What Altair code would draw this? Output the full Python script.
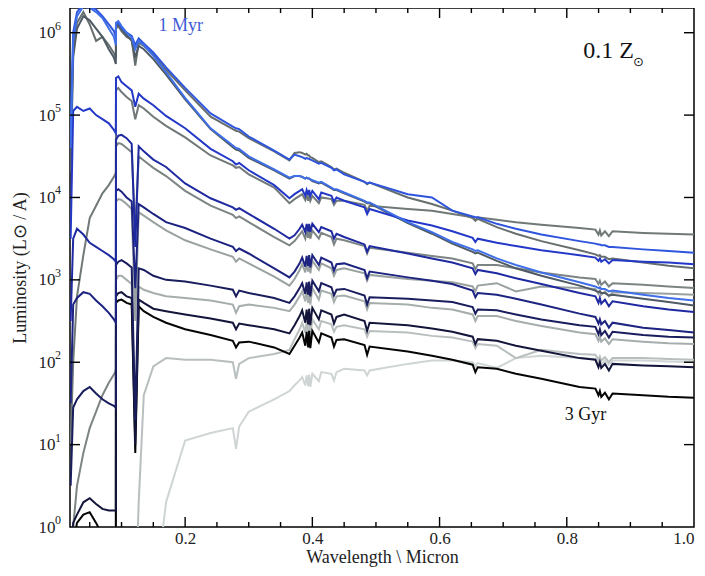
import altair as alt
import pandas as pd

# ---------------- data (log10 luminosity) ----------------
wavelength = [0.020, 0.024, 0.030, 0.040, 0.050, 0.060, 0.070, 0.080, 0.088, 0.0911,
              0.0913, 0.095, 0.100, 0.108, 0.116, 0.1216, 0.127, 0.135, 0.150, 0.170,
              0.200, 0.240, 0.275, 0.280, 0.285, 0.300, 0.340, 0.364, 0.372, 0.380,
              0.384, 0.3889, 0.391, 0.3934, 0.395, 0.3968, 0.400, 0.4102, 0.414, 0.430, 0.434, 0.438,
              0.450, 0.482, 0.4861, 0.490, 0.550, 0.588, 0.620, 0.652, 0.6563, 0.660,
              0.690, 0.720, 0.760, 0.820, 0.845, 0.8498, 0.852, 0.8542, 0.860, 0.8662,
              0.872, 0.920, 0.960, 1.000]

beta_b = [4.60, 5.90, 6.20, 6.32, 6.30, 6.25, 6.18, 6.05, 5.95, 5.85,
          6.12, 6.14, 6.08, 6.00, 5.94, 5.80, 5.90, 5.85, 5.72, 5.52,
          5.21, 4.84, 4.63, 4.60, 4.59, 4.50, 4.34, 4.24, 4.26, 4.26,
          4.25, 4.23, 4.24, 4.23, 4.23, 4.22, 4.21, 4.18, 4.19, 4.12, 4.10, 4.10,
          4.06, 3.96, 3.94, 3.94, 3.70, 3.58, 3.46, 3.37, 3.35, 3.36,
          3.26, 3.18, 3.09, 2.97, 2.92, 2.90, 2.91, 2.89, 2.89, 2.86,
          2.87, 2.82, 2.78, 2.75]
beta_g = [4.30, 5.70, 6.05, 6.20, 6.15, 6.05, 5.95, 5.80, 5.70, 5.62,
          6.08, 6.10, 6.04, 5.97, 5.90, 5.70, 5.84, 5.80, 5.68, 5.49,
          5.19, 4.83, 4.61, 4.58, 4.57, 4.48, 4.33, 4.23, 4.26, 4.26,
          4.25, 4.23, 4.24, 4.23, 4.23, 4.22, 4.20, 4.17, 4.18, 4.11, 4.09, 4.09,
          4.05, 3.95, 3.93, 3.93, 3.69, 3.56, 3.44, 3.34, 3.32, 3.33,
          3.23, 3.14, 3.05, 2.93, 2.87, 2.85, 2.86, 2.84, 2.84, 2.81,
          2.82, 2.77, 2.73, 2.69]
alpha_b = [4.80, 6.00, 6.25, 6.35, 6.32, 6.28, 6.20, 6.10, 6.02, 5.95,
           6.10, 6.12, 6.06, 6.00, 5.96, 5.85, 5.93, 5.87, 5.76, 5.58,
           5.33, 5.02, 4.86, 4.84, 4.83, 4.74, 4.57, 4.46, 4.52, 4.50,
           4.49, 4.47, 4.48, 4.47, 4.47, 4.46, 4.45, 4.41, 4.42, 4.36, 4.33, 4.34,
           4.28, 4.19, 4.17, 4.18, 4.04, 4.00, 3.84, 3.77, 3.76, 3.76,
           3.68, 3.62, 3.55, 3.47, 3.44, 3.43, 3.43, 3.42, 3.42, 3.40,
           3.40, 3.37, 3.35, 3.33]
alpha_g = [4.50, 5.80, 6.12, 6.25, 6.10, 5.90, 5.95, 5.85, 5.75, 5.70,
           6.05, 6.08, 6.02, 5.95, 5.92, 5.60, 5.88, 5.84, 5.74, 5.55,
           5.30, 4.98, 4.83, 4.81, 4.80, 4.72, 4.56, 4.45, 4.54, 4.55,
           4.54, 4.52, 4.53, 4.51, 4.51, 4.49, 4.48, 4.43, 4.44, 4.37, 4.34, 4.35,
           4.30, 4.19, 4.16, 4.18, 4.00, 3.92, 3.84, 3.75, 3.72, 3.74,
           3.64, 3.56, 3.47, 3.36, 3.31, 3.29, 3.30, 3.28, 3.28, 3.25,
           3.26, 3.21, 3.17, 3.14]
gamma_b = [3.50, 5.05, 5.10, 5.05, 5.08, 5.00, 4.95, 4.90, 4.82, 4.78,
           5.45, 5.47, 5.40, 5.35, 5.30, 5.10, 5.26, 5.20, 5.12, 4.99,
           4.84, 4.59, 4.44, 4.40, 4.42, 4.33, 4.15, 3.99, 4.04, 4.08,
           4.10, 4.02, 4.09, 4.03, 4.09, 4.02, 4.08, 3.98, 4.06, 4.02, 3.95, 4.00,
           3.96, 3.88, 3.80, 3.86, 3.72, 3.66, 3.59, 3.51, 3.46, 3.50,
           3.45, 3.41, 3.36, 3.30, 3.27, 3.23, 3.26, 3.22, 3.25, 3.20,
           3.24, 3.22, 3.21, 3.19]
gamma_g = [1.00, 2.00, 2.80, 3.30, 3.75, 3.90, 4.05, 4.15, 4.25, 4.30,
           5.30, 5.33, 5.28, 5.22, 5.17, 4.95, 5.12, 5.08, 4.98, 4.87,
           4.73, 4.51, 4.39, 4.36, 4.37, 4.28, 4.12, 3.93, 3.98, 4.02,
           4.04, 3.97, 4.03, 3.96, 4.03, 3.96, 4.02, 3.93, 4.00, 3.98, 3.91, 3.96,
           3.96, 3.91, 3.84, 3.90, 3.86, 3.84, 3.80, 3.76, 3.72, 3.76,
           3.73, 3.70, 3.67, 3.63, 3.61, 3.55, 3.60, 3.54, 3.59, 3.53,
           3.59, 3.57, 3.56, 3.55]
pa_b = [2.50, 3.50, 3.62, 3.55, 3.45, 3.40, 3.35, 3.30, 3.25, 3.22,
        4.70, 4.75, 4.76, 4.72, 4.65, 3.40, 4.62, 4.56, 4.46, 4.37,
        4.17, 3.99, 3.88, 3.85, 3.87, 3.80, 3.62, 3.50, 3.54, 3.62,
        3.67, 3.58, 3.68, 3.59, 3.68, 3.58, 3.68, 3.58, 3.64, 3.59, 3.50, 3.56,
        3.52, 3.43, 3.34, 3.41, 3.32, 3.26, 3.21, 3.14, 3.07, 3.12,
        3.08, 3.02, 2.95, 2.84, 2.80, 2.72, 2.78, 2.71, 2.76, 2.68,
        2.74, 2.68, 2.64, 2.61]
pa_g = [-0.50, 0.00, 0.50, 0.90, 1.20, 1.40, 1.60, 1.75, 1.85, 1.90,
        4.62, 4.66, 4.65, 4.60, 4.55, 3.60, 4.50, 4.45, 4.36, 4.26,
        4.08, 3.90, 3.79, 3.75, 3.77, 3.70, 3.52, 3.42, 3.47, 3.55,
        3.59, 3.50, 3.60, 3.51, 3.60, 3.50, 3.60, 3.50, 3.57, 3.52, 3.43, 3.50,
        3.48, 3.41, 3.32, 3.39, 3.33, 3.29, 3.26, 3.20, 3.13, 3.18,
        3.18, 3.14, 3.09, 3.03, 3.01, 2.95, 2.99, 2.94, 2.98, 2.92,
        2.96, 2.94, 2.92, 2.90]
pb_b = [1.50, 2.70, 2.78, 2.85, 2.83, 2.75, 2.68, 2.60, 2.52, 2.48,
        4.08, 4.10, 4.07, 4.00, 3.95, 2.90, 3.92, 3.88, 3.80, 3.70,
        3.63, 3.50, 3.40, 3.35, 3.38, 3.32, 3.14, 3.03, 3.10, 3.20,
        3.27, 3.16, 3.29, 3.17, 3.30, 3.15, 3.30, 3.18, 3.27, 3.21, 3.11, 3.19,
        3.20, 3.12, 3.02, 3.10, 3.03, 2.99, 2.95, 2.87, 2.79, 2.84,
        2.82, 2.77, 2.70, 2.59, 2.55, 2.47, 2.52, 2.46, 2.50, 2.42,
        2.48, 2.42, 2.39, 2.36]
pb_g = [-1, -1, -1, -1, -1, -1, -1, -1, -1, -1,
        3.95, 3.98, 3.97, 3.92, 3.86, 2.50, 3.82, 3.78, 3.70, 3.60,
        3.48, 3.37, 3.28, 3.22, 3.26, 3.20, 3.04, 2.93, 3.01, 3.12,
        3.19, 3.09, 3.21, 3.10, 3.22, 3.08, 3.23, 3.12, 3.20, 3.14, 3.05, 3.12,
        3.14, 3.08, 2.99, 3.06, 3.01, 2.99, 2.97, 2.92, 2.86, 2.93,
        2.96, 2.86, 2.92, 2.90, 2.89, 2.83, 2.87, 2.82, 2.86, 2.80,
        2.85, 2.84, 2.83, 2.82]
pc_b = [0.50, 1.45, 1.55, 1.65, 1.70, 1.62, 1.55, 1.50, 1.47, 1.45,
        3.18, 3.22, 3.24, 3.20, 3.15, 1.30, 3.14, 3.12, 3.05, 3.00,
        2.98, 2.93, 2.88, 2.80, 2.87, 2.84, 2.78, 2.72, 2.80, 2.90,
        2.96, 2.83, 2.97, 2.82, 2.98, 2.80, 2.99, 2.86, 2.96, 2.91, 2.81, 2.88,
        2.89, 2.81, 2.70, 2.79, 2.77, 2.75, 2.73, 2.67, 2.59, 2.64,
        2.63, 2.58, 2.52, 2.45, 2.43, 2.34, 2.40, 2.33, 2.38, 2.30,
        2.37, 2.33, 2.31, 2.30]
pc_g = [-1, -1, -1, -1, -1, -1, -1, -1, -1, -1,
        3.00, 3.05, 3.05, 3.00, 2.95, 1.20, 2.92, 2.88, 2.84, 2.80,
        2.78, 2.75, 2.70, 2.60, 2.68, 2.70, 2.66, 2.62, 2.70, 2.80,
        2.86, 2.74, 2.88, 2.72, 2.89, 2.70, 2.90, 2.76, 2.87, 2.83, 2.73, 2.80,
        2.81, 2.74, 2.64, 2.72, 2.70, 2.66, 2.64, 2.58, 2.50, 2.56,
        2.56, 2.50, 2.44, 2.36, 2.34, 2.26, 2.31, 2.25, 2.29, 2.22,
        2.28, 2.25, 2.23, 2.22]
pd_b = [-0.50, 0.05, 0.15, 0.30, 0.35, 0.28, 0.22, 0.20, 0.20, 0.20,
        2.80, 2.84, 2.85, 2.80, 2.78, 1.00, 2.76, 2.72, 2.65, 2.62,
        2.58, 2.53, 2.48, 2.40, 2.47, 2.45, 2.40, 2.35, 2.45, 2.56,
        2.63, 2.48, 2.64, 2.46, 2.65, 2.45, 2.66, 2.52, 2.63, 2.58, 2.47, 2.55,
        2.58, 2.50, 2.38, 2.48, 2.45, 2.41, 2.37, 2.31, 2.22, 2.28,
        2.26, 2.20, 2.14, 2.05, 2.03, 1.94, 2.00, 1.93, 1.98, 1.90,
        1.98, 1.96, 1.95, 1.94]
pd_g = [-1, -1, -1, -1, -1, -1, -1, -1, -1, -1,
        -1, -1, -1, -1, -1, -1, 0.30, 1.60, 1.95, 2.05,
        2.03, 2.03, 2.00, 1.80, 1.98, 2.05, 2.10, 2.15, 2.28, 2.40,
        2.48, 2.36, 2.50, 2.34, 2.52, 2.33, 2.52, 2.40, 2.50, 2.46, 2.37, 2.43,
        2.45, 2.40, 2.31, 2.38, 2.36, 2.32, 2.30, 2.25, 2.17, 2.22,
        2.20, 2.05, 2.15, 2.10, 2.09, 2.03, 2.07, 2.02, 2.06, 2.00,
        2.05, 2.05, 2.04, 2.03]
pe_b = [-1.00, -0.20, 0.05, 0.15, 0.18, 0.05, -0.10, -0.30, -0.50, -0.60,
        2.72, 2.75, 2.76, 2.72, 2.70, 0.90, 2.68, 2.62, 2.55, 2.48,
        2.40, 2.33, 2.26, 2.18, 2.24, 2.25, 2.18, 2.10, 2.20, 2.30,
        2.36, 2.20, 2.37, 2.18, 2.38, 2.17, 2.38, 2.24, 2.35, 2.30, 2.19, 2.27,
        2.28, 2.21, 2.09, 2.19, 2.13, 2.08, 2.03, 1.97, 1.88, 1.94,
        1.92, 1.86, 1.80, 1.70, 1.68, 1.60, 1.65, 1.58, 1.63, 1.55,
        1.62, 1.60, 1.58, 1.57]
pe_g = [-1, -1, -1, -1, -1, -1, -1, -1, -1, -1,
        -1, -1, -1, -1, -1, -1, -1, -1, -1, 0.30,
        1.05, 1.14, 1.20, 0.95, 1.22, 1.40, 1.55, 1.65, 1.72, 1.78,
        1.82, 1.72, 1.84, 1.71, 1.85, 1.70, 1.86, 1.77, 1.88, 1.86, 1.78, 1.88,
        1.92, 1.90, 1.84, 1.90, 1.98, 2.02, 2.02, 2.00, 1.95, 1.99,
        1.93, 2.05, 2.08, 2.05, 2.04, 1.99, 2.03, 1.98, 2.02, 1.97,
        2.02, 2.02, 2.01, 2.00]

# drawing order: single-star (grey) models first, binary (coloured) on top
series_names = ["pe_g", "pd_g", "pc_g", "pb_g", "pa_g", "gamma_g", "alpha_g", "beta_g",
                "pe_b", "pd_b", "pc_b", "pb_b", "pa_b", "gamma_b", "alpha_b", "beta_b"]
series_values = [pe_g, pd_g, pc_g, pb_g, pa_g, gamma_g, alpha_g, beta_g,
                 pe_b, pd_b, pc_b, pb_b, pa_b, gamma_b, alpha_b, beta_b]
series_colors = ["#cfd4d4", "#b9bfbf", "#a6adad", "#9aa1a1", "#7c8484", "#707878", "#666e6e", "#4f5a64",
                 "#050505", "#13153a", "#191d5e", "#1c2380", "#1f2aa0", "#2438c8", "#2f55dd", "#3f6fe8"]

x_major = [0.2, 0.4, 0.6, 0.8]
x_minor = [0.05, 0.1, 0.15, 0.25, 0.3, 0.35, 0.45, 0.5, 0.55, 0.65, 0.7, 0.75, 0.85, 0.9, 0.95]
y_major = [1, 2, 3, 4, 5, 6]
y_label_pos = [0, 1, 2, 3, 4, 5, 6]
y_label_exp = ["0", "1", "2", "3", "4", "5", "6"]

note_text = ["1 Myr", "3 Gyr"]
note_x = [0.158, 0.797]
note_y = [6.08, 1.36]
note_color = ["#3d5bd6", "#111111"]

z_text = ["0.1 Z"]
z_x = [0.826]
z_y = [5.78]
sun_text = ["\u2299"]
sun_x = [0.904]
sun_y = [5.65]

# ---------------- build ----------------
rows = []
for name, vals in zip(series_names, series_values):
    for w, v in zip(wavelength, vals):
        rows.append({"series": name, "wl": w, "logL": v})
df = pd.DataFrame(rows)

W, H = 624, 519
FONT = "Liberation Serif"
xscale = alt.Scale(domain=[0.019, 1.0], nice=False, zero=False)
yscale = alt.Scale(domain=[0, 6.3], nice=False, zero=False)

x_axis = alt.Axis(values=[0.2, 0.4, 0.6, 0.8, 1.0], format=".1f",
                  title="Wavelength \\ Micron", ticks=False, domain=False, grid=False,
                  labelFont=FONT, labelFontSize=17, labelColor="#222",
                  labelPadding=3, titleFont=FONT, titleFontSize=18,
                  titleFontWeight="normal", titleColor="#222",
                  titleY=35, titleBaseline="alphabetic")
y_axis = alt.Axis(values=y_label_pos, labelExpr="'10'",
                  title="Luminosity (L\u2299 / A)", ticks=False, domain=False, grid=False,
                  labelFont=FONT, labelFontSize=17, labelColor="#222", labelPadding=15,
                  titleFont=FONT, titleFontSize=18, titleFontWeight="normal",
                  titleColor="#222", titlePadding=9)


def xe(field):
    return alt.X(field, scale=xscale, axis=x_axis)


def ye(field):
    return alt.Y(field, scale=yscale, axis=y_axis)


layers = []
for name, col in zip(series_names, series_colors):
    layers.append(
        alt.Chart(df).transform_filter(alt.datum.series == name)
        .mark_line(color=col, strokeWidth=2.0, clip=True)
        .encode(x=xe("wl:Q"), y=ye("logL:Q"), order="wl:Q")
    )


def xtick_layer(vals, length, top):
    d = pd.DataFrame({"wl": vals})
    y0, y1 = (0, length) if top else (H, H - length)
    return alt.Chart(d).mark_rule(color="black", strokeWidth=1.4).encode(
        x=xe("wl:Q"), y=alt.value(y0), y2=alt.value(y1))


def ytick_layer(vals, length, right):
    d = pd.DataFrame({"logL": vals})
    x0, x1 = (W, W - length) if right else (0, length)
    return alt.Chart(d).mark_rule(color="black", strokeWidth=1.4).encode(
        y=ye("logL:Q"), x=alt.value(x0), x2=alt.value(x1))


ticks = [xtick_layer(x_major, 10, False), xtick_layer(x_minor, 5, False),
         xtick_layer(x_major, 10, True), xtick_layer(x_minor, 5, True),
         ytick_layer(y_major, 10, False), ytick_layer(y_major, 10, True)]

exps = alt.Chart(pd.DataFrame({"logL": y_label_pos, "t": y_label_exp})).mark_text(
    font=FONT, fontSize=12, align="left", baseline="middle", dy=-7, color="#222").encode(
    y=ye("logL:Q"), x=alt.value(-15), text="t:N")

notes = alt.Chart(pd.DataFrame({"t": note_text, "wl": note_x, "logL": note_y, "c": note_color})).mark_text(
    font=FONT, fontSize=18, align="left", baseline="middle").encode(
    x=xe("wl:Q"), y=ye("logL:Q"), text="t:N", color=alt.Color("c:N", scale=None))

zlab = alt.Chart(pd.DataFrame({"t": z_text, "wl": z_x, "logL": z_y})).mark_text(
    font=FONT, fontSize=24, align="left", baseline="middle", color="#111").encode(
    x=xe("wl:Q"), y=ye("logL:Q"), text="t:N")

sunlab = alt.Chart(pd.DataFrame({"t": sun_text, "wl": sun_x, "logL": sun_y})).mark_text(
    font="DejaVu Sans", fontSize=13, align="left", baseline="middle", color="#111").encode(
    x=xe("wl:Q"), y=ye("logL:Q"), text="t:N")

chart = alt.layer(*layers, *ticks, exps, notes, zlab, sunlab).properties(
    width=W, height=H,
    autosize=alt.AutoSizeParams(type="none"),
    padding={"left": 62, "top": 0, "right": 2, "bottom": 41},
    background="white",
).configure_view(stroke="black", strokeWidth=1.5)

chart.save("out.html", embed_options={"renderer": "svg", "actions": False})
